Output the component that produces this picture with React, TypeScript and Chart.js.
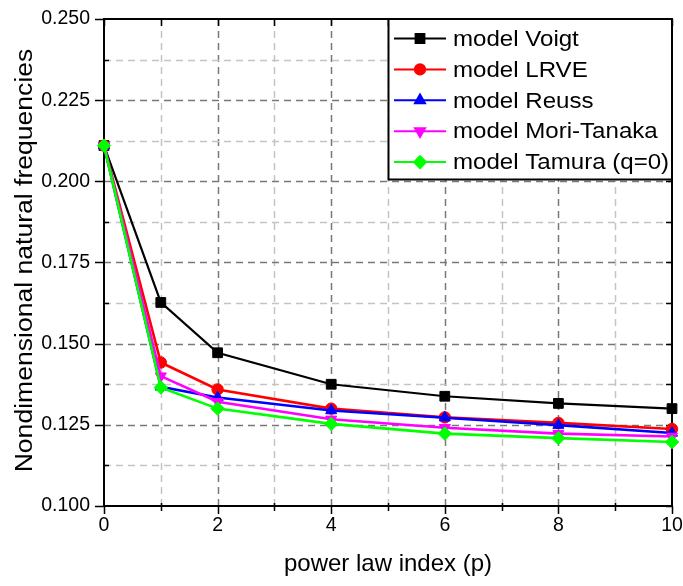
import React, { useEffect, useRef } from 'react';
import { Chart, registerables } from 'chart.js';
import { drawPoint } from 'chart.js/helpers';

Chart.register(...registerables);

// ---------- data ----------
const powerIndex = [0, 1, 2, 4, 6, 8, 10];
const voigt = [0.211, 0.1627, 0.1472, 0.1375, 0.1338, 0.1316, 0.1300];
const lrve = [0.211, 0.1442, 0.1359, 0.1300, 0.1273, 0.1256, 0.1237];
const reuss = [0.211, 0.1367, 0.1334, 0.1294, 0.1272, 0.1249, 0.1225];
const moriTanaka = [0.211, 0.1400, 0.1321, 0.1267, 0.1241, 0.1223, 0.1214];
const tamura = [0.211, 0.1365, 0.1300, 0.1253, 0.1223, 0.1209, 0.1197];

const seriesNames = ['model Voigt', 'model LRVE', 'model Reuss', 'model Mori-Tanaka', 'model Tamura (q=0)'];
const seriesValues = [voigt, lrve, reuss, moriTanaka, tamura];
const seriesColors = ['#000000', '#ff0000', '#0000ff', '#ff00ff', '#00ff00'];
const seriesMarkers = ['rect', 'circle', 'triangle', 'triangle', 'rectRot'];
const seriesMarkerRotation = [0, 0, 0, 180, 0];
const seriesMarkerRadius = [6.9, 5.7, 6.4, 6.4, 6.7];

const xTitle = 'power law index (p)';
const yTitle = 'Nondimensional natural frequencies';
const xMin = 0, xMax = 10, xMajor = 2, xMinor = 1;
const yMin = 0.1, yMax = 0.25, yMajor = 0.025, yMinor = 0.0125;

const FONT = '"Liberation Sans", Arial, Helvetica, sans-serif';

const framePlugin = {
  id: 'originFrame',
  beforeDatasetsDraw(chart: any) {
    const { ctx, chartArea: a, scales } = chart;
    const xs = scales.x, ys = scales.y;
    ctx.save();
    // grid lines
    ctx.lineWidth = 1.5;
    ctx.setLineDash([7, 5]);
    const nx = Math.round((xMax - xMin) / xMinor);
    for (let i = 1; i < nx; i++) {
      const v = xMin + i * xMinor;
      const major = Math.abs(v / xMajor - Math.round(v / xMajor)) < 1e-6;
      const px = Math.round(xs.getPixelForValue(v)) + 0.5;
      ctx.strokeStyle = major ? '#787878' : '#c4c4c4';
      ctx.beginPath();
      ctx.moveTo(px, a.bottom);
      ctx.lineTo(px, a.top);
      ctx.stroke();
    }
    const ny = Math.round((yMax - yMin) / yMinor);
    for (let i = 1; i < ny; i++) {
      const v = yMin + i * yMinor;
      const major = i % 2 === 0;
      const py = Math.round(ys.getPixelForValue(v)) + 0.5;
      ctx.strokeStyle = major ? '#787878' : '#c4c4c4';
      ctx.beginPath();
      ctx.moveTo(a.left, py);
      ctx.lineTo(a.right, py);
      ctx.stroke();
    }
    ctx.setLineDash([]);
    // frame
    ctx.strokeStyle = '#000';
    ctx.lineWidth = 2;
    ctx.strokeRect(a.left, a.top, a.right - a.left, a.bottom - a.top);
    // ticks
    ctx.lineWidth = 1.5;
    ctx.beginPath();
    for (let i = 0; i <= nx; i++) {
      const v = xMin + i * xMinor;
      const major = Math.abs(v / xMajor - Math.round(v / xMajor)) < 1e-6;
      const px = Math.round(xs.getPixelForValue(v)) + 0.5;
      if (major) {
        ctx.moveTo(px, a.bottom);
        ctx.lineTo(px, a.bottom + 8);
      } else {
        ctx.moveTo(px, a.bottom - 3);
        ctx.lineTo(px, a.bottom + 5);
      }
      ctx.moveTo(px, a.top);
      ctx.lineTo(px, a.top + 7);
    }
    for (let i = 0; i <= ny; i++) {
      const v = yMin + i * yMinor;
      const major = i % 2 === 0;
      const py = Math.round(ys.getPixelForValue(v)) + 0.5;
      if (major) {
        ctx.moveTo(a.left - 9, py);
        ctx.lineTo(a.left, py);
      } else {
        ctx.moveTo(a.left, py);
        ctx.lineTo(a.left + 5, py);
      }
      ctx.moveTo(a.right, py);
      ctx.lineTo(a.right - 6, py);
    }
    ctx.stroke();
    ctx.restore();
  },
  afterDraw(chart: any) {
    const { ctx, chartArea: a } = chart;
    ctx.save();
    // y axis title (stretched like the original)
    ctx.fillStyle = '#000';
    ctx.font = `23.5px ${FONT}`;
    ctx.textAlign = 'center';
    ctx.textBaseline = 'alphabetic';
    ctx.translate(32, (a.top + a.bottom) / 2 - 2);
    ctx.rotate(-Math.PI / 2);
    ctx.scale(1.13, 1);
    ctx.fillText(yTitle, 0, 0);
    ctx.restore();

    // legend box
    ctx.save();
    const lx = 388.5, ly = a.top, lr = a.right, lb = 179.5;
    ctx.fillStyle = '#fff';
    ctx.fillRect(lx, ly, lr - lx, lb - ly);
    ctx.strokeStyle = '#000';
    ctx.lineWidth = 2;
    ctx.strokeRect(lx, ly, lr - lx, lb - ly);
    ctx.font = `22.5px ${FONT}`;
    ctx.textAlign = 'left';
    ctx.textBaseline = 'middle';
    seriesNames.forEach((name, i) => {
      const cy = 38.5 + i * 30.9;
      ctx.strokeStyle = seriesColors[i];
      ctx.lineWidth = 2;
      ctx.beginPath();
      ctx.moveTo(394, cy);
      ctx.lineTo(446, cy);
      ctx.stroke();
      ctx.fillStyle = seriesColors[i];
      drawPoint(ctx, {
        pointStyle: seriesMarkers[i],
        rotation: seriesMarkerRotation[i],
        radius: seriesMarkerRadius[i] * 0.9,
        borderWidth: 1,
      } as any, 420, cy);
      ctx.fillStyle = '#000';
      ctx.save();
      ctx.translate(453, cy + 1);
      ctx.scale(1.07, 1);
      ctx.fillText(name, 0, 0);
      ctx.restore();
    });
    ctx.restore();
  },
};

export default function App() {
  const ref = useRef<HTMLCanvasElement | null>(null);
  useEffect(() => {
    if (!ref.current) return;
    Chart.defaults.font.family = FONT;
    Chart.defaults.color = '#000';
    const datasets = seriesNames.map((name, i) => ({
      label: name,
      data: powerIndex.map((p, j) => ({ x: p, y: seriesValues[i][j] })),
      borderColor: seriesColors[i],
      backgroundColor: seriesColors[i],
      borderWidth: i === 0 ? 2.2 : 2.6,
      pointStyle: seriesMarkers[i] as any,
      rotation: seriesMarkerRotation[i],
      pointRadius: seriesMarkerRadius[i],
      pointBorderWidth: 1,
      pointBackgroundColor: seriesColors[i],
      pointBorderColor: seriesColors[i],
      tension: 0,
      clip: false as any,
      order: seriesNames.length - i,
    }));
    const chart = new Chart(ref.current, {
      type: 'line',
      data: { datasets },
      plugins: [framePlugin],
      options: {
        animation: false,
        responsive: false,
        layout: { autoPadding: false, padding: { left: 0, top: 19, right: 11, bottom: 0 } },
        plugins: { legend: { display: false }, tooltip: { enabled: false } },
        scales: {
          x: {
            type: 'linear',
            min: xMin,
            max: xMax,
            afterFit: (s: any) => { s.height = 80; },
            grid: { display: true, drawOnChartArea: false, drawTicks: true, tickLength: 8, tickColor: 'rgba(0,0,0,0)' },
            border: { display: false },
            ticks: { stepSize: xMajor, font: { size: 19.5 }, color: '#000', padding: 0, maxRotation: 0 },
            title: { display: true, text: xTitle, font: { size: 24 }, color: '#000', padding: { top: 0, bottom: 7 } },
          },
          y: {
            type: 'linear',
            min: yMin,
            max: yMax,
            afterFit: (s: any) => { s.width = 104; },
            grid: { display: true, drawOnChartArea: false, drawTicks: true, tickLength: 14, tickColor: 'rgba(0,0,0,0)' },
            border: { display: false },
            ticks: {
              stepSize: yMajor,
              font: { size: 19.5 },
              color: '#000',
              padding: 0,
              callback: (v: any) => Number(v).toFixed(3),
            },
          },
        },
      },
    });
    return () => chart.destroy();
  }, []);
  return (
    <div style={{ position: 'fixed', left: 0, top: 0, width: 683, height: 586, background: '#fff' }}>
      <canvas ref={ref} width={683} height={586} style={{ display: 'block' }} />
    </div>
  );
}
